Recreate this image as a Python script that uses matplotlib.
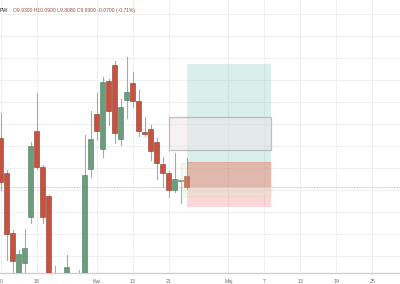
import numpy as np
import matplotlib
matplotlib.use('Agg')
from matplotlib import pyplot as plt
from matplotlib.patches import Rectangle

plt.rcParams['font.family'] = ['Liberation Sans', 'DejaVu Sans']

# daily candles (bar index 0 = left edge of the crop)
opens = [10.275, 9.957, 9.412, 8.95, 9.139, 9.557, 10.339, 10.012, 9.748, 8.95,
         8.85, 8.90, 9.00, 8.95, 8.97, 9.994, 10.494, 10.175, 10.794, 10.939,
         10.266, 10.621, 10.775, 10.612, 10.33, 10.357, 10.239, 10.039, 9.957, 9.803,
         9.88, 9.93]
highs = [10.503, 9.985, 9.439, 9.257, 9.448, 10.239, 10.685, 10.03, 9.76, 9.112,
         8.98, 9.212, 9.03, 9.075, 10.303, 10.521, 10.685, 10.83, 10.812, 10.975,
         10.63, 11.012, 10.875, 10.712, 10.466, 10.394, 10.275, 10.103, 9.975, 10.139,
         9.894, 10.09]
lows = [9.80, 9.166, 9.03, 8.90, 9.00, 9.503, 9.994, 9.503, 8.85, 8.80,
        8.75, 8.85, 8.90, 8.90, 8.90, 9.921, 10.266, 10.103, 10.394, 10.23,
        10.212, 10.457, 10.557, 10.294, 10.294, 10.075, 9.903, 9.83, 9.739, 9.785,
        9.685, 9.808]
closes = [9.875, 9.403, 9.157, 9.221, 9.275, 10.203, 10.012, 9.557, 8.89, 8.85,
          8.90, 9.103, 8.95, 8.97, 9.939, 10.266, 10.339, 10.785, 10.521, 10.321,
          10.557, 10.694, 10.612, 10.339, 10.312, 10.157, 10.048, 9.957, 9.803, 9.903,
          9.889, 9.83]

# date ticks
tick_bars = [0, 6, 16, 22, 28, 38, 44, 50, 56, 62]
tick_labels = ['10', '18', 'Kwi', '13', '21', 'Maj', '7', '13', '19', '25']

# long position tool
pos_start, pos_end = 31, 45.17
entry, target, stop = 10.057, 10.948, 9.648
last_close = 9.83

# drawn boxes (bar start, bar end, low, high)
gray_box = (28, 45.17, 10.166, 10.466)
green_box = (30, 45.17, 9.748, 10.048)

red_col = '#c55340'
green_col = '#6b9c7c'
wick_col = '#a8a8a8'

fig = plt.figure(figsize=(4, 2.84), dpi=100)
ax = fig.add_axes([0, 11 / 284, 1, 273 / 284])
ax.set_xlim(-0.1, 66.6)
ax.set_ylim(9.048, 11.53)

# grid
for b in tick_bars:
    ax.axvline(b, color='#f0f0f0', lw=0.8, zorder=0)
for p in np.arange(9.2, 11.5, 0.2):
    ax.axhline(p, color='#f0f0f0', lw=0.8, zorder=0)

# candles
w = 0.82
for i in range(len(opens)):
    o, h, l, c = opens[i], highs[i], lows[i], closes[i]
    col = green_col if c >= o else red_col
    ax.plot([i, i], [l, h], color=wick_col, lw=0.8, zorder=2)
    lo, hi = min(o, c), max(o, c)
    ax.add_patch(Rectangle((i - w / 2, lo), w, max(hi - lo, 0.008),
                           facecolor=col, edgecolor='#8a3a2c' if col == red_col else '#4f7a5e',
                           lw=0.4, zorder=3))

# last price line
ax.axhline(last_close, color='#f2a0a6', lw=0.6, ls=(0, (1, 1)), zorder=1)

# position tool
ax.add_patch(Rectangle((pos_start, entry), pos_end - pos_start, target - entry,
                       facecolor='#089981', alpha=0.15, lw=0, zorder=4))
ax.add_patch(Rectangle((pos_start, stop), pos_end - pos_start, entry - stop,
                       facecolor='#f23645', alpha=0.2, lw=0, zorder=4))
ax.add_patch(Rectangle((pos_start, last_close), pos_end - pos_start, entry - last_close,
                       facecolor='#b83a30', alpha=0.3, lw=0, zorder=4))

# rectangles
x0, x1, y0, y1 = gray_box
ax.add_patch(Rectangle((x0, y0), x1 - x0, y1 - y0, facecolor='#efe4e7', alpha=0.5,
                       edgecolor='#8c8c8c', lw=0.9, zorder=5))
x0, x1, y0, y1 = green_box
ax.add_patch(Rectangle((x0, y0), x1 - x0, y1 - y0, facecolor='#cfeec0', alpha=0.25,
                       edgecolor='#b4e89c', lw=0.9, zorder=5))

# bottom axis
ax.set_xticks([])
ax.set_yticks([])
for s in ['top', 'right', 'left']:
    ax.spines[s].set_visible(False)
ax.spines['bottom'].set_color('#d0d0d0')
ax.spines['bottom'].set_linewidth(1.0)
for b, lab in zip(tick_bars, tick_labels):
    ax.text(b, -0.022, lab, transform=ax.get_xaxis_transform(), ha='center', va='top',
            fontsize=3.8, color='#707070')

# header legend
hy = 1 - 10.5 / 284
fig.text(0.0, hy, 'PW', fontsize=3.8, color='#303030', va='center')
fig.text(13 / 400, hy, 'O9.9300 H10.0900 L9.8080 C9.8300 -0.0700 (-0.71%)',
         fontsize=3.6, color='#9a4a40', va='center')

plt.savefig('out.png', dpi=100)
